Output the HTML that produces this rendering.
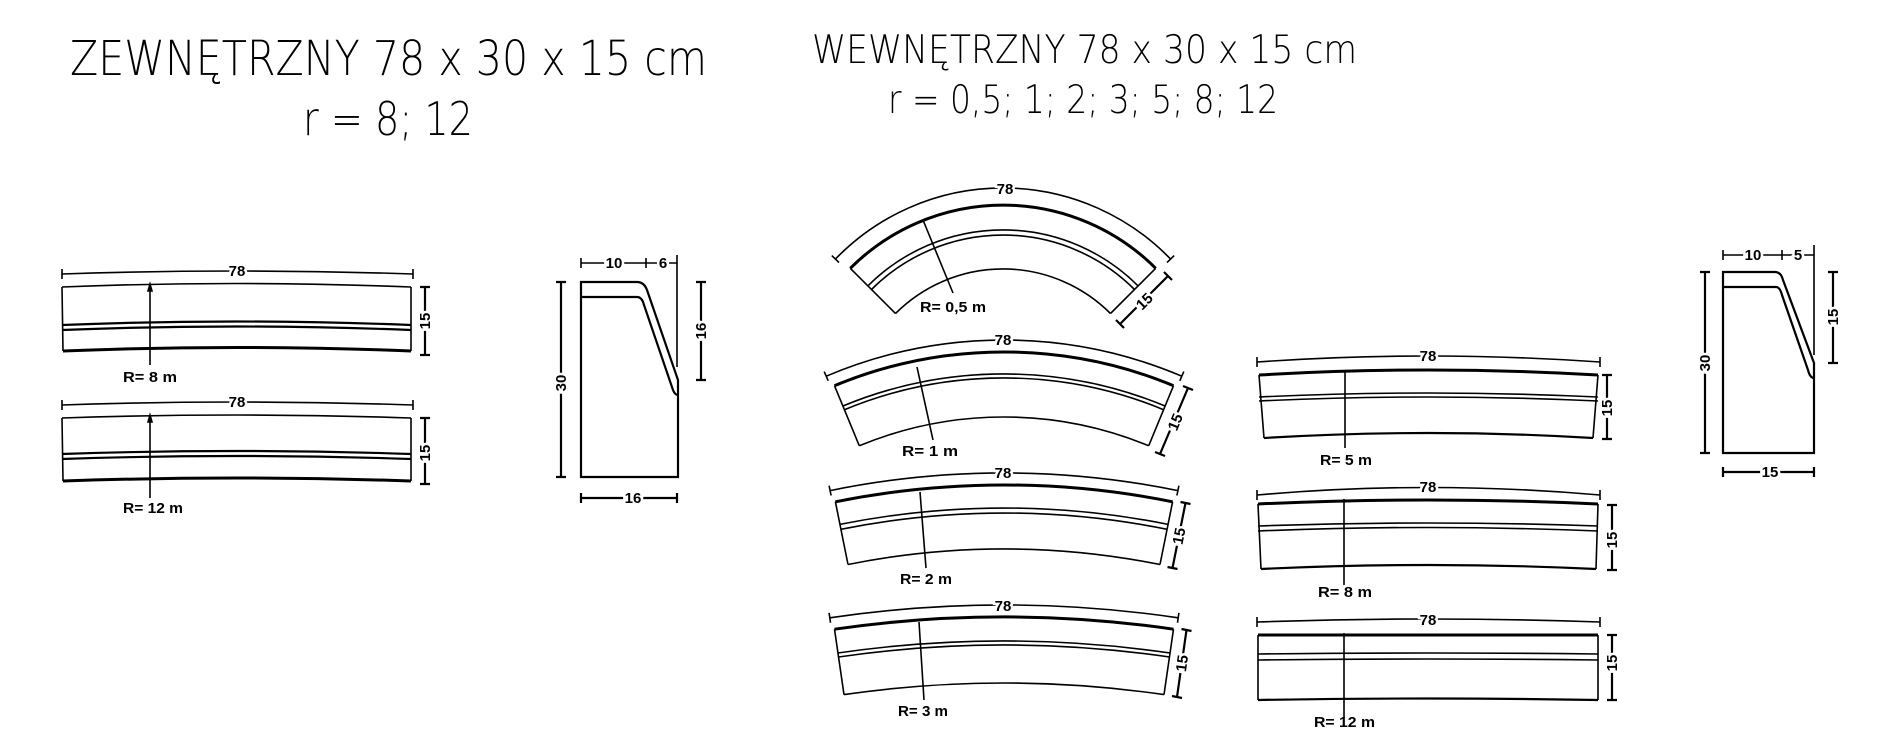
<!DOCTYPE html>
<html><head><meta charset="utf-8"><style>
html,body{margin:0;padding:0;background:#fff;}
svg{display:block;}
.t{font-family:"DejaVu Sans ExtraLight","DejaVu Sans Light","Liberation Sans",sans-serif;font-weight:200;fill:#000;}
.d{font-family:"Liberation Sans",sans-serif;font-weight:bold;font-size:15px;fill:#000;stroke:#fff;stroke-width:5px;paint-order:stroke;text-anchor:middle;}
.r{font-family:"Liberation Sans",sans-serif;font-weight:bold;font-size:15px;fill:#000;}
path,line{fill:none;stroke:#000;stroke-width:1.6;}
.k{stroke-width:3;}
.m{stroke-width:2.2;}
</style></head><body>
<svg width="1880" height="741" viewBox="0 0 1880 741" xmlns="http://www.w3.org/2000/svg">
<text class="t" x="70" y="75" font-size="48" textLength="637" lengthAdjust="spacingAndGlyphs">ZEWNĘTRZNY 78 x 30 x 15 cm</text>
<text class="t" x="303" y="135" font-size="46" textLength="170" lengthAdjust="spacingAndGlyphs">r = 8; 12</text>
<text class="t" x="812" y="63" font-size="39" textLength="545" lengthAdjust="spacingAndGlyphs">WEWNĘTRZNY 78 x 30 x 15 cm</text>
<text class="t" x="888" y="113" font-size="39" textLength="390" lengthAdjust="spacingAndGlyphs">r = 0,5; 1; 2; 3; 5; 8; 12</text>

<path d="M62 274 Q237 268 413 274"/><path d="M62 269 V279 M413 269 V279"/>
<text class="d" x="237" y="276">78</text>
<path d="M62 287 Q237 280 411 287"/>
<path class="m" d="M62 325 Q237 318 411 325"/><path class="m" d="M62 330 Q237 323 411 330"/>
<path class="k" d="M63 351 Q237 344 411 351"/>
<path d="M62 287 L63 351 M411 287 L411 351"/>
<path d="M150 284 L150 365"/><path d="M148 291 L150 284 L152 291 Z" style="fill:#000"/>
<text class="r" x="123" y="382" textLength="54" lengthAdjust="spacingAndGlyphs">R= 8 m</text>
<path class="m" d="M425 287 V355 M420 287 H430 M420 355 H430"/>
<text class="d" transform="translate(430 321) rotate(-90)">15</text>

<path d="M62 405 Q237 399 413 405"/><path d="M62 400 V410 M413 400 V410"/>
<text class="d" x="237" y="407">78</text>
<path d="M62 418 Q237 412 411 418"/>
<path class="m" d="M62 454 Q237 448 411 454"/><path class="m" d="M62 459 Q237 453 411 459"/>
<path class="k" d="M63 481 Q237 475 411 481"/>
<path d="M62 418 L63 481 M411 418 L411 481"/>
<path d="M150 415 L150 498"/><path d="M148 422 L150 415 L152 422 Z" style="fill:#000"/>
<text class="r" x="123" y="513" textLength="60" lengthAdjust="spacingAndGlyphs">R= 12 m</text>
<path class="m" d="M425 418 V484 M420 418 H430 M420 484 H430"/>
<text class="d" transform="translate(430 453) rotate(-90)">15</text>

<path class="m" d="M581 282 H637 Q644 282 647 290 L678 380 V477 H581 Z"/>
<path class="m" d="M581 297 H637 Q642 297 644 305 L673 390 Q675 395 678 395"/>
<path d="M581 263 H677 M581 258 V268 M646 258 V268 M677 255 V367"/>
<text class="d" x="614" y="268">10</text>
<text class="d" x="663" y="268">6</text>
<path class="m" d="M561 282 V477 M556 282 H566 M556 477 H566"/>
<text class="d" transform="translate(566 383) rotate(-90)">30</text>
<path class="m" d="M701 282 V380 M696 282 H706 M696 380 H706"/>
<text class="d" transform="translate(706 331) rotate(-90)">16</text>
<path class="m" d="M581 498 H677 M581 493 V503 M677 493 V503"/>
<text class="d" x="633" y="503">16</text>

<path d="M835.4 259.1 A233 233 0 0 1 1170.6 259.1"/>
<path d="M831.8 255.6 L839 262.6 M1174.2 255.6 L1167 262.6"/>
<text class="d" x="1005" y="194">78</text>
<path class="k" d="M850.3 268.3 A216 216 0 0 1 1155.7 268.3"/>
<path d="M867.9 285.9 A191 191 0 0 1 1138.1 285.9"/>
<path d="M871.5 289.5 A186 186 0 0 1 1134.5 289.5"/>
<path d="M895.5 313.5 A152 152 0 0 1 1110.5 313.5"/>
<path d="M850.3 268.3 L895.5 313.5 M1155.7 268.3 L1110.5 313.5"/>
<path d="M923 220 L953 293"/>
<text class="r" x="920" y="312" textLength="66" lengthAdjust="spacingAndGlyphs">R= 0,5 m</text>
<path class="m" d="M1168 276 L1120 324 M1164 272 L1172 280 M1116 320 L1124 328"/>
<text class="d" transform="translate(1148 305) rotate(-45)">15</text>

<path d="M826.2 376.2 A455 455 0 0 1 1181.8 376.2"/>
<path d="M824.2 371.6 L828.2 380.8 M1183.8 371.6 L1179.8 380.8"/>
<text class="d" x="1003" y="345">78</text>
<path class="k" d="M834.5 385.7 A443 443 0 0 1 1173.5 385.7"/>
<path d="M842.9 406 A421 421 0 0 1 1165.1 406"/>
<path d="M844.4 409.7 A417 417 0 0 1 1163.6 409.7"/>
<path d="M859.3 445.8 A378 378 0 0 1 1148.7 445.8"/>
<path d="M834.5 385.7 L859.3 445.8 M1173.5 385.7 L1148.7 445.8"/>
<path d="M917 367 L933 440"/>
<text class="r" x="902" y="456" textLength="56" lengthAdjust="spacingAndGlyphs">R= 1 m</text>
<path class="m" d="M1188 388 L1160 454 M1183 386 L1193 390 M1155 452 L1165 456"/>
<text class="d" transform="translate(1180 424) rotate(-67.5)">15</text>

<path d="M830.1 490.6 A865 865 0 0 1 1177.9 490.6"/>
<path d="M829.1 485.7 L831.1 495.5 M1178.9 485.7 L1176.9 495.5"/>
<text class="d" x="1003" y="478">78</text>
<path class="k" d="M835.4 501.8 A853 853 0 0 1 1172.6 501.8"/>
<path d="M839.9 524.4 A830 830 0 0 1 1168.1 524.4"/>
<path d="M840.9 529.3 A825 825 0 0 1 1167.1 529.3"/>
<path d="M848 564.5 A789 789 0 0 1 1160 564.5"/>
<path d="M835.4 501.8 L848 564.5 M1172.6 501.8 L1160 564.5"/>
<path d="M920 492 L926 568"/>
<text class="r" x="900" y="584" textLength="52" lengthAdjust="spacingAndGlyphs">R= 2 m</text>
<path class="m" d="M1185.5 503 L1172.5 568 M1180.5 502 L1190.5 504 M1167.5 567 L1177.5 569"/>
<text class="d" transform="translate(1184 537) rotate(-79)">15</text>

<path d="M829.8 617.8 A1192 1192 0 0 1 1178.2 617.8"/>
<path d="M829.1 612.9 L830.5 622.7 M1178.9 612.9 L1177.5 622.7"/>
<text class="d" x="1003" y="611">78</text>
<path class="k" d="M834.5 629.2 A1180 1180 0 0 1 1173.5 629.2"/>
<path d="M837.9 653 A1156 1156 0 0 1 1170.1 653"/>
<path d="M838.5 657 A1152 1152 0 0 1 1169.5 657"/>
<path d="M844 694.6 A1114 1114 0 0 1 1164 694.6"/>
<path d="M834.5 629.2 L844 694.6 M1173.5 629.2 L1164 694.6"/>
<path d="M919 622 L924 700"/>
<text class="r" x="898" y="716" textLength="50" lengthAdjust="spacingAndGlyphs">R= 3 m</text>
<path class="m" d="M1186.5 630 L1177 697 M1181.5 629 L1191.5 631 M1172 696 L1182 698"/>
<text class="d" transform="translate(1187 664) rotate(-82)">15</text>

<path d="M1257 362 Q1428 350 1600 362 M1257 357 V367 M1600 357 V367"/>
<text class="d" x="1428" y="361">78</text>
<path class="k" d="M1259 375 Q1428 365 1598 375"/>
<path d="M1259 397 Q1428 389 1598 397"/><path d="M1259 401 Q1428 393 1598 401"/>
<path class="m" d="M1264 438 Q1428 428 1593 438"/>
<path d="M1259 375 L1264 438 M1598 375 L1593 438"/>
<path d="M1345 370 L1345 448"/>
<text class="r" x="1320" y="465" textLength="52" lengthAdjust="spacingAndGlyphs">R= 5 m</text>
<path class="m" d="M1607 375 V439 M1602 375 H1612 M1602 439 H1612"/>
<text class="d" transform="translate(1612 408) rotate(-90)">15</text>

<path d="M1257 495 Q1428 480 1600 495 M1257 490 V500 M1600 490 V500"/>
<text class="d" x="1428" y="492">78</text>
<path class="k" d="M1258 504 Q1428 496 1598 504"/>
<path d="M1258 526 Q1428 520 1598 526"/><path d="M1258 531 Q1428 524 1598 531"/>
<path class="m" d="M1261 569 Q1428 561 1596 569"/>
<path d="M1258 504 L1261 569 M1598 504 L1596 569"/>
<path d="M1344 499 L1344 585"/>
<text class="r" x="1318" y="597" textLength="54" lengthAdjust="spacingAndGlyphs">R= 8 m</text>
<path class="m" d="M1612 505 V570 M1607 505 H1617 M1607 570 H1617"/>
<text class="d" transform="translate(1617 540) rotate(-90)">15</text>

<path d="M1257 622 Q1428 616 1600 622 M1257 617 V627 M1600 617 V627"/>
<text class="d" x="1428" y="625">78</text>
<path class="k" d="M1258 635 H1598"/>
<path d="M1258 654 Q1428 652 1598 654"/><path d="M1258 660 Q1428 658 1598 660"/>
<path class="m" d="M1258 700 Q1428 697 1598 700"/>
<path d="M1258 635 V700 M1598 635 V700"/>
<path d="M1344 633 L1344 718"/>
<text class="r" x="1314" y="727" textLength="61" lengthAdjust="spacingAndGlyphs">R= 12 m</text>
<path class="m" d="M1612 635 V700 M1607 635 H1617 M1607 700 H1617"/>
<text class="d" transform="translate(1617 663) rotate(-90)">15</text>

<path class="m" d="M1723 272 H1775 Q1781 272 1783 280 L1814 363 V453 H1723 Z"/>
<path class="m" d="M1723 287 H1776 Q1780 287 1782 295 L1808 370 Q1810 378 1814 378"/>
<path d="M1723 255 H1814 M1723 250 V260 M1782 250 V260 M1814 245 V355"/>
<text class="d" x="1753" y="260">10</text>
<text class="d" x="1798" y="260">5</text>
<path class="m" d="M1705 272 V453 M1700 272 H1710 M1700 453 H1710"/>
<text class="d" transform="translate(1710 363) rotate(-90)">30</text>
<path class="m" d="M1833 272 V363 M1828 272 H1838 M1828 363 H1838"/>
<text class="d" transform="translate(1838 317) rotate(-90)">15</text>
<path class="m" d="M1723 472 H1814 M1723 467 V477 M1814 467 V477"/>
<text class="d" x="1770" y="477">15</text>
</svg>
</body></html>
